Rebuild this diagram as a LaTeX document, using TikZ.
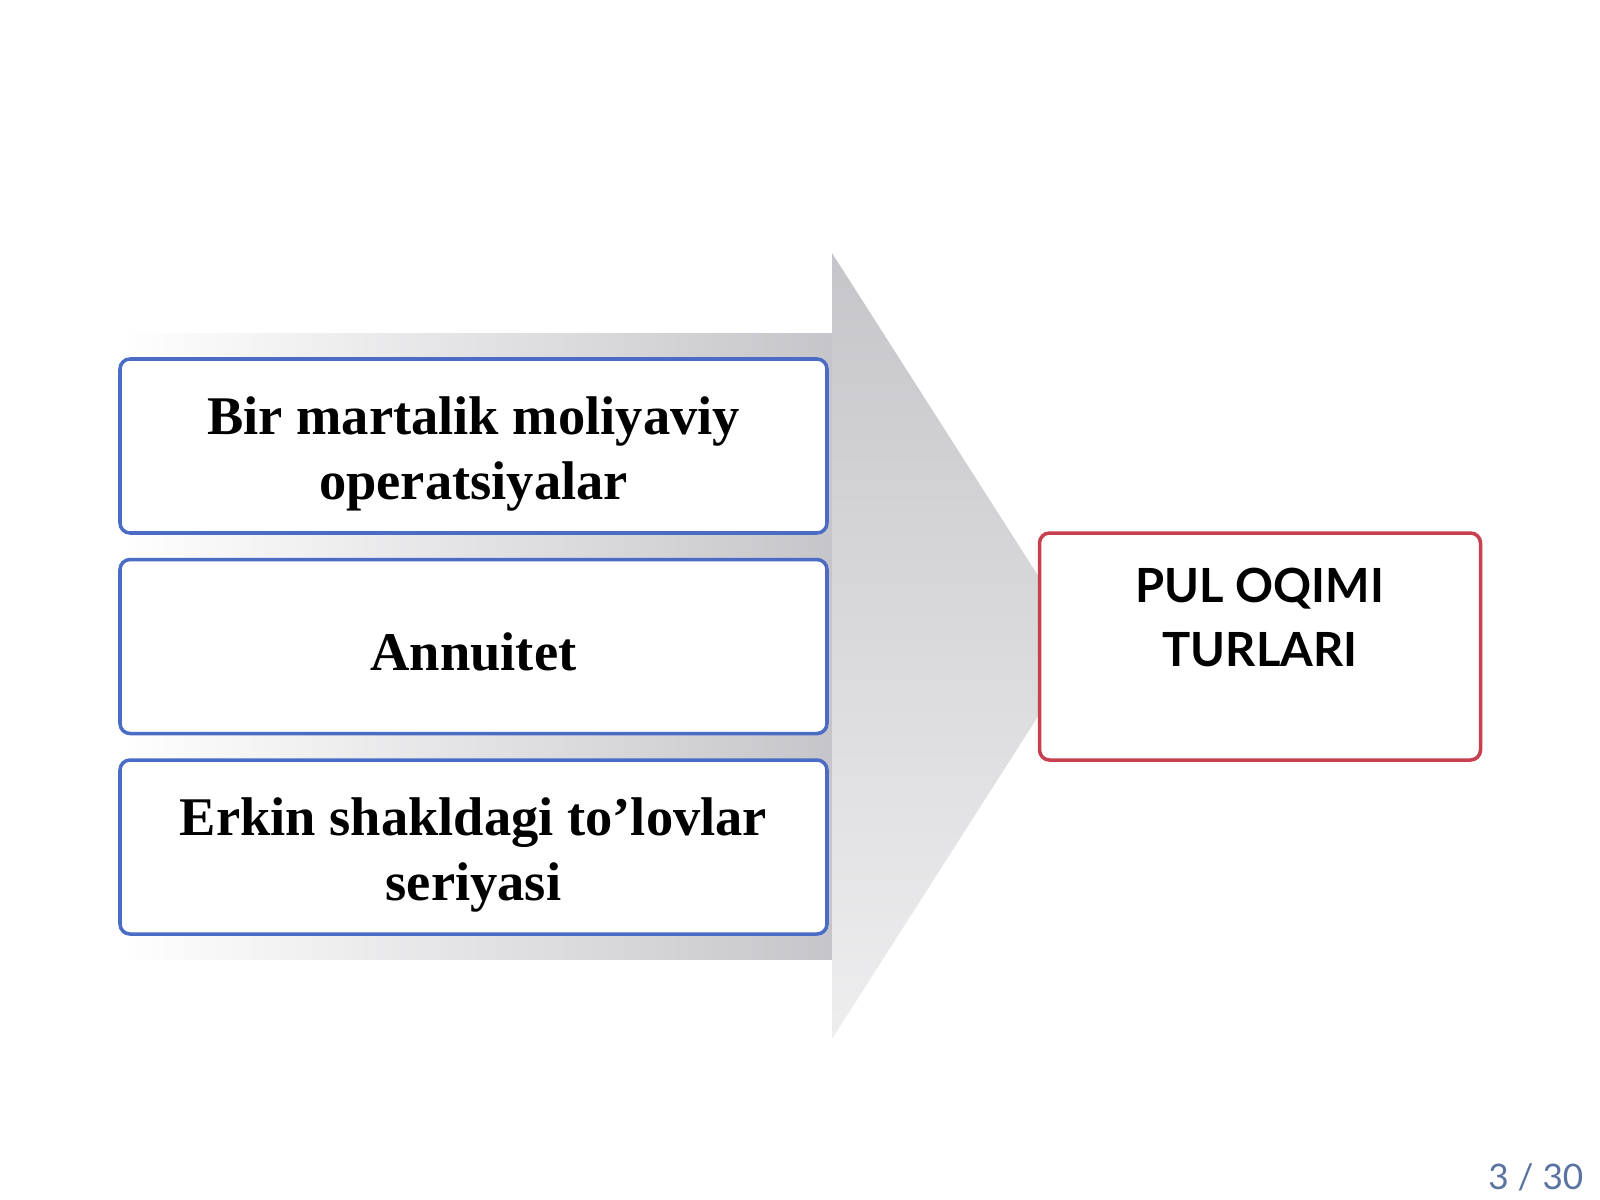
\documentclass[tikz,border=0pt]{standalone}
\usepackage{fontspec}
\setmainfont{Liberation Serif}
\newfontfamily\latofont{Lato}
\usetikzlibrary{positioning}
\definecolor{boxblue}{RGB}{74,108,196}
\definecolor{boxred}{RGB}{200,64,80}
\definecolor{arrowgray}{RGB}{198,198,202}
\definecolor{pageblue}{RGB}{90,115,160}
\newcommand{\kindstrut}{\rule{0pt}{15.4pt}}

\begin{document}
\begin{tikzpicture}[x=0.1mm,y=-0.1mm,
    kind/.style={draw=boxblue, line width=1pt, rounded corners=1mm, fill=white,
        minimum width=70.7mm, minimum height=17.4mm, align=center, inner sep=0pt,
        font=\fontsize{15.5}{18.5}\selectfont\bfseries,
        execute at begin node=\rule{0pt}{14pt}},
    total/.style={draw=boxred, line width=1pt, rounded corners=1mm, fill=white,
        minimum width=44.1mm, minimum height=22.7mm},
    totaltext/.style={align=center, inner sep=0pt,
        font=\latofont\fontsize{13.4}{18.2}\selectfont\bfseries},
    pagenum/.style={text=pageblue, inner sep=0pt, font=\latofont\fontsize{10}{12}\selectfont}]
\useasboundingbox (0,0) rectangle (1600,1200);
% big arrow behind the boxes
\shade[left color=white, right color=arrowgray] (120,334) rectangle (832,959);
\shade[top color=arrowgray, bottom color=arrowgray!30] (832,253) -- (1083,646) -- (832,1039) -- cycle;
% kinds of cash flow
\node[kind] (once) at (473.5,446) {\kindstrut Bir martalik moliyaviy\\operatsiyalar};
\node[kind, below=2.3mm of once] (annuity) {Annuitet};
\node[kind, below=2.3mm of annuity] (free) {\kindstrut Erkin shakldagi to’lovlar\\seriyasi};
\node[total, right=20.9mm of annuity] (total) {};
\node[totaltext, anchor=north] (totaltitle) at ([yshift=-3.6mm]total.north) {PUL OQIMI\\TURLARI};
\node[pagenum, anchor=base east] (page) at (1584,1189) {3 / 30};
\end{tikzpicture}
\end{document}
